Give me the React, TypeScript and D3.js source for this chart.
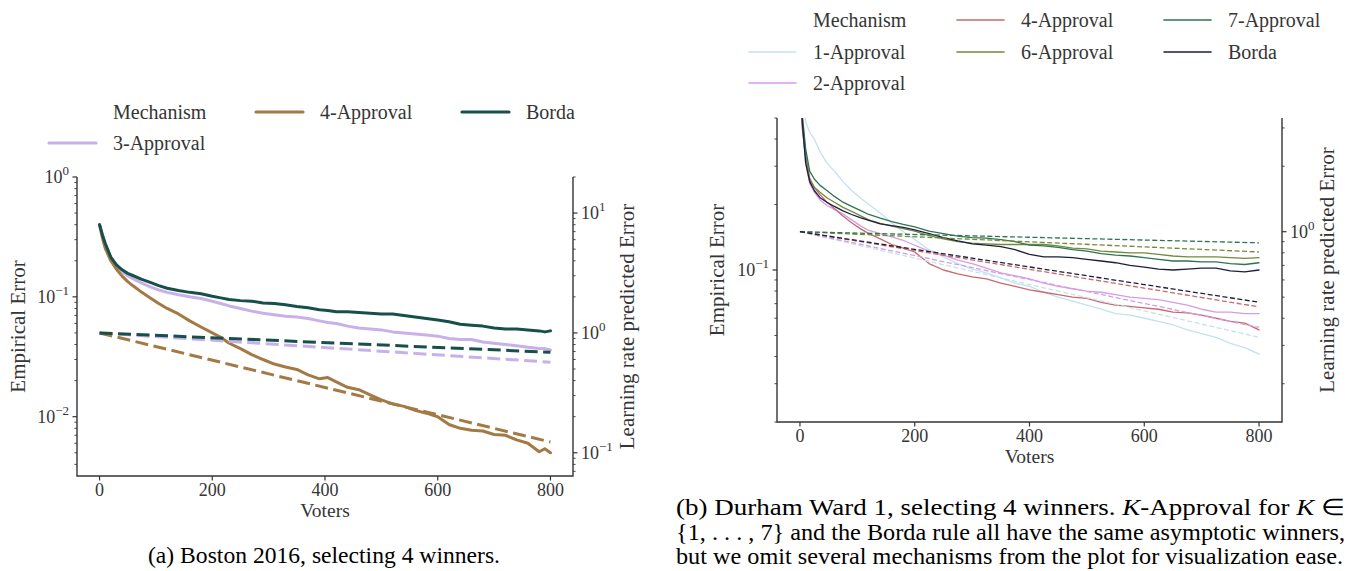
import { useEffect, useRef } from 'react'
import * as d3 from 'd3'

const WIDTH = 1348
const HEIGHT = 571
const FONT = "'Liberation Serif', 'Times New Roman', serif"
const INK = '#353535'

// (a) Boston 2016 -- empirical error per number of voters
const BOSTON_VOTERS = [0, 5, 10, 20, 30, 40, 50, 60, 75, 90, 105, 120, 140, 160, 180, 200, 215, 230, 250, 270, 290, 310, 330, 350, 370, 390, 405, 420, 440, 460, 480, 500, 520, 540, 560, 580, 600, 620, 640, 660, 680, 700, 720, 740, 760, 780, 790, 800]
const BOSTON_APPROVAL3 = [
  0.40, 0.33, 0.275, 0.21, 0.18, 0.162, 0.150, 0.141, 0.130, 0.121,
  0.114, 0.109, 0.104, 0.100, 0.097, 0.092, 0.088, 0.084, 0.080, 0.076,
  0.073, 0.071, 0.069, 0.068, 0.066, 0.063, 0.061, 0.060, 0.057, 0.055,
  0.054, 0.053, 0.051, 0.050, 0.049, 0.048, 0.047, 0.045, 0.044, 0.044,
  0.042, 0.041, 0.040, 0.039, 0.038, 0.037, 0.037, 0.036,
]
const BOSTON_APPROVAL4 = [
  0.40, 0.31, 0.255, 0.20, 0.17, 0.149, 0.134, 0.123, 0.109, 0.098,
  0.088, 0.080, 0.072, 0.063, 0.056, 0.050, 0.046, 0.041, 0.037, 0.033,
  0.030, 0.0275, 0.026, 0.0248, 0.0223, 0.0207, 0.0212, 0.0195, 0.0176, 0.0168,
  0.0152, 0.0138, 0.0128, 0.0122, 0.0113, 0.0107, 0.0100, 0.0086, 0.0080, 0.0077,
  0.0076, 0.0071, 0.0070, 0.0064, 0.0060, 0.0051, 0.0054, 0.0050,
]
const BOSTON_BORDA = [
  0.40, 0.33, 0.28, 0.215, 0.185, 0.168, 0.157, 0.150, 0.140, 0.132,
  0.124, 0.118, 0.113, 0.109, 0.106, 0.101, 0.098, 0.095, 0.093, 0.092,
  0.089, 0.088, 0.086, 0.083, 0.081, 0.078, 0.077, 0.075, 0.075, 0.074,
  0.073, 0.072, 0.072, 0.070, 0.068, 0.066, 0.064, 0.062, 0.059, 0.058,
  0.057, 0.055, 0.054, 0.054, 0.053, 0.052, 0.051, 0.052,
]

// learning-rate predicted error (right axis), straight on the log scale
const PRED_VOTERS = [0, 800]
const BOSTON_PRED_APPROVAL3 = [1, 0.57]
const BOSTON_PRED_APPROVAL4 = [1, 0.123]
const BOSTON_PRED_BORDA = [1, 0.69]

// (b) Durham Ward 1
const DURHAM_VOTERS = [0, 4, 10, 17, 25, 35, 47, 60, 75, 90, 105, 120, 140, 160, 180, 200, 225, 250, 275, 300, 325, 350, 375, 400, 425, 450, 475, 500, 525, 550, 575, 600, 625, 650, 675, 700, 725, 750, 775, 800]
const DURHAM_APPROVAL1 = [
  1.0, 0.62, 0.48, 0.43, 0.40, 0.35, 0.31, 0.285, 0.255, 0.232,
  0.215, 0.200, 0.183, 0.165, 0.150, 0.138, 0.124, 0.115, 0.107, 0.101,
  0.097, 0.092, 0.087, 0.084, 0.079, 0.075, 0.072, 0.069, 0.066, 0.063,
  0.062, 0.060, 0.058, 0.056, 0.053, 0.051, 0.049, 0.046, 0.044, 0.041,
]
const DURHAM_APPROVAL2 = [
  0.9, 0.47, 0.31, 0.25, 0.228, 0.21, 0.198, 0.19, 0.181, 0.170,
  0.160, 0.152, 0.147, 0.142, 0.137, 0.130, 0.122, 0.117, 0.111, 0.107,
  0.102, 0.097, 0.094, 0.091, 0.087, 0.084, 0.082, 0.080, 0.079, 0.077,
  0.075, 0.074, 0.073, 0.071, 0.069, 0.066, 0.064, 0.064, 0.063, 0.063,
]
const DURHAM_APPROVAL4 = [
  0.9, 0.45, 0.33, 0.265, 0.24, 0.222, 0.205, 0.192, 0.177, 0.165,
  0.155, 0.147, 0.139, 0.131, 0.126, 0.121, 0.107, 0.100, 0.096, 0.093,
  0.091, 0.087, 0.084, 0.081, 0.079, 0.077, 0.075, 0.074, 0.071, 0.069,
  0.068, 0.067, 0.066, 0.064, 0.0635, 0.062, 0.060, 0.058, 0.057, 0.053,
]
const DURHAM_APPROVAL6 = [
  0.95, 0.5, 0.34, 0.26, 0.24, 0.228, 0.215, 0.205, 0.194, 0.186,
  0.178, 0.170, 0.164, 0.159, 0.155, 0.151, 0.144, 0.139, 0.135, 0.133,
  0.132, 0.131, 0.131, 0.131, 0.131, 0.129, 0.126, 0.125, 0.122, 0.121,
  0.120, 0.120, 0.118, 0.116, 0.115, 0.115, 0.115, 0.114, 0.113, 0.114,
]
const DURHAM_APPROVAL7 = [
  0.95, 0.52, 0.36, 0.285, 0.262, 0.245, 0.232, 0.218, 0.205, 0.196,
  0.188, 0.180, 0.173, 0.167, 0.162, 0.158, 0.151, 0.147, 0.143, 0.141,
  0.140, 0.138, 0.135, 0.130, 0.129, 0.127, 0.124, 0.122, 0.119, 0.117,
  0.116, 0.114, 0.112, 0.110, 0.110, 0.109, 0.109, 0.107, 0.106, 0.108,
]
const DURHAM_BORDA = [
  0.9, 0.48, 0.31, 0.255, 0.232, 0.215, 0.205, 0.196, 0.187, 0.180,
  0.174, 0.169, 0.163, 0.160, 0.157, 0.153, 0.147, 0.141, 0.136, 0.132,
  0.130, 0.128, 0.124, 0.118, 0.115, 0.115, 0.114, 0.112, 0.110, 0.108,
  0.105, 0.103, 0.101, 0.100, 0.101, 0.102, 0.102, 0.099, 0.098, 0.100,
]
const DURHAM_PRED_APPROVAL1 = [1, 0.327]
const DURHAM_PRED_APPROVAL2 = [1, 0.363]
const DURHAM_PRED_APPROVAL4 = [1, 0.451]
const DURHAM_PRED_APPROVAL6 = [1, 0.807]
const DURHAM_PRED_APPROVAL7 = [1, 0.889]
const DURHAM_PRED_BORDA = [1, 0.474]

const X_TICKS = [0, 200, 400, 600, 800]

interface Series {
  name: string
  color: string
  values: number[]
  pred: number[]
}

const BOSTON_SERIES: Series[] = [
  { name: '3-Approval', color: '#c8b1ea', values: BOSTON_APPROVAL3, pred: BOSTON_PRED_APPROVAL3 },
  { name: '4-Approval', color: '#a37a45', values: BOSTON_APPROVAL4, pred: BOSTON_PRED_APPROVAL4 },
  { name: 'Borda', color: '#17504a', values: BOSTON_BORDA, pred: BOSTON_PRED_BORDA },
]

const DURHAM_SERIES: Series[] = [
  { name: '1-Approval', color: '#c4e1ef', values: DURHAM_APPROVAL1, pred: DURHAM_PRED_APPROVAL1 },
  { name: '2-Approval', color: '#d49de6', values: DURHAM_APPROVAL2, pred: DURHAM_PRED_APPROVAL2 },
  { name: '4-Approval', color: '#c8696a', values: DURHAM_APPROVAL4, pred: DURHAM_PRED_APPROVAL4 },
  { name: '6-Approval', color: '#74893a', values: DURHAM_APPROVAL6, pred: DURHAM_PRED_APPROVAL6 },
  { name: '7-Approval', color: '#2f7452', values: DURHAM_APPROVAL7, pred: DURHAM_PRED_APPROVAL7 },
  { name: 'Borda', color: '#1b1f42', values: DURHAM_BORDA, pred: DURHAM_PRED_BORDA },
]

interface Panel {
  id: string
  left: number
  right: number
  top: number
  bottom: number
  errDomain: [number, number]
  predDomain: [number, number]
  voters: number[]
  series: Series[]
  lineWidth: number
  dash: string
  errLabelX: number
  predLabelX: number
}

type Sel = d3.Selection<SVGGElement, unknown, null, undefined>

function isPow10(t: number) {
  return Math.abs(Math.log10(t) - Math.round(Math.log10(t))) < 1e-6
}

function logAxis(g: Sel, scale: d3.ScaleLogarithmic<number, number>, xPos: number, dir: number) {
  scale.ticks().forEach((t) => {
    const major = isPow10(t)
    const y = scale(t)
    g.append('line')
      .attr('x1', xPos).attr('x2', xPos + dir * (major ? 4.5 : 2.6))
      .attr('y1', y).attr('y2', y)
      .attr('stroke', INK).attr('stroke-width', major ? 1.2 : 0.9)
    if (!major) return
    const exp = Math.round(Math.log10(t))
    const label = g.append('text')
      .attr('x', dir < 0 ? xPos - 8 : xPos + 8)
      .attr('y', y + 6)
      .attr('text-anchor', dir < 0 ? 'end' : 'start')
      .attr('font-size', 18)
      .attr('fill', INK)
    label.append('tspan').text('10')
    label.append('tspan').attr('dy', -8).attr('font-size', 13).text(String(exp).replace('-', '\u2212'))
  })
}

function drawPanel(svg: d3.Selection<SVGSVGElement, unknown, null, undefined>, p: Panel) {
  const x = d3.scaleLinear().domain([-40, 840]).range([p.left, p.right])
  const yErr = d3.scaleLog().domain(p.errDomain).range([p.bottom, p.top])
  const yPred = d3.scaleLog().domain(p.predDomain).range([p.bottom, p.top])

  const g = svg.append('g').attr('font-family', FONT)

  svg.append('defs').append('clipPath').attr('id', `clip-${p.id}`)
    .append('rect')
    .attr('x', p.left).attr('y', p.top)
    .attr('width', p.right - p.left).attr('height', p.bottom - p.top)

  const plot = g.append('g').attr('clip-path', `url(#clip-${p.id})`)

  const errLine = d3.line<number>()
    .x((_, i) => x(p.voters[i]))
    .y((d) => yErr(d))
  const predLine = d3.line<number>()
    .x((_, i) => x(PRED_VOTERS[i]))
    .y((d) => yPred(d))

  p.series.forEach((s) => {
    plot.append('path')
      .attr('d', errLine(s.values) ?? '')
      .attr('fill', 'none')
      .attr('stroke', s.color)
      .attr('stroke-width', p.lineWidth)
      .attr('stroke-linejoin', 'round')
      .attr('stroke-linecap', 'round')
  })
  p.series.forEach((s) => {
    plot.append('path')
      .attr('d', predLine(s.pred) ?? '')
      .attr('fill', 'none')
      .attr('stroke', s.color)
      .attr('stroke-width', p.lineWidth)
      .attr('stroke-dasharray', p.dash)
  })

  // spines: left, bottom, right (no top)
  g.append('path')
    .attr('d', `M${p.left},${p.top}V${p.bottom}H${p.right}V${p.top}`)
    .attr('fill', 'none')
    .attr('stroke', INK)
    .attr('stroke-width', 1.4)

  X_TICKS.forEach((v) => {
    g.append('line')
      .attr('x1', x(v)).attr('x2', x(v))
      .attr('y1', p.bottom).attr('y2', p.bottom + 4.5)
      .attr('stroke', INK).attr('stroke-width', 1.2)
    g.append('text')
      .attr('x', x(v)).attr('y', p.bottom + 20)
      .attr('text-anchor', 'middle')
      .attr('font-size', 18).attr('fill', INK)
      .text(v)
  })

  logAxis(g, yErr, p.left, -1)
  logAxis(g, yPred, p.right, 1)

  const midY = (p.top + p.bottom) / 2
  g.append('text')
    .attr('x', (p.left + p.right) / 2).attr('y', p.bottom + 41)
    .attr('text-anchor', 'middle').attr('font-size', 19.5).attr('fill', INK)
    .text('Voters')
  g.append('text')
    .attr('transform', `translate(${p.errLabelX},${midY}) rotate(-90)`)
    .attr('text-anchor', 'middle').attr('font-size', 21).attr('fill', INK)
    .text('Empirical Error')
  g.append('text')
    .attr('transform', `translate(${p.predLabelX},${midY}) rotate(-90)`)
    .attr('text-anchor', 'middle').attr('font-size', 21).attr('fill', INK)
    .text('Learning rate predicted Error')
}

interface LegendItem {
  label: string
  color?: string
  tx: number
  ty: number
}

function drawLegend(svg: d3.Selection<SVGSVGElement, unknown, null, undefined>, items: LegendItem[], lw: number) {
  const g = svg.append('g').attr('font-family', FONT)
  items.forEach((it) => {
    if (it.color) {
      g.append('line')
        .attr('x1', it.tx - 64).attr('x2', it.tx - 17)
        .attr('y1', it.ty).attr('y2', it.ty)
        .attr('stroke', it.color).attr('stroke-width', lw)
        .attr('stroke-linecap', 'round')
    }
    g.append('text')
      .attr('x', it.tx).attr('y', it.ty + 6.5)
      .attr('font-size', 20).attr('fill', INK)
      .text(it.label)
  })
}

export default function App() {
  const svgRef = useRef<SVGSVGElement>(null)

  useEffect(() => {
    if (!svgRef.current) return
    const svg = d3.select(svgRef.current)
    svg.selectAll('*').remove()

    drawPanel(svg, {
      id: 'boston',
      left: 77, right: 573, top: 177, bottom: 476,
      errDomain: [0.0032, 1],
      predDomain: [0.064, 20],
      voters: BOSTON_VOTERS,
      series: BOSTON_SERIES,
      lineWidth: 3,
      dash: '13,5.5',
      errLabelX: 25,
      predLabelX: 634,
    })

    drawPanel(svg, {
      id: 'durham',
      left: 777, right: 1282, top: 118, bottom: 422,
      errDomain: [0.02, 0.5],
      predDomain: [0.02 / 0.15, 0.5 / 0.15],
      voters: DURHAM_VOTERS,
      series: DURHAM_SERIES,
      lineWidth: 1.3,
      dash: '5,2.5',
      errLabelX: 724,
      predLabelX: 1334,
    })

    const bColor = (name: string) => DURHAM_SERIES.find((s) => s.name === name)?.color
    const aColor = (name: string) => BOSTON_SERIES.find((s) => s.name === name)?.color

    drawLegend(svg, [
      { label: 'Mechanism', tx: 113, ty: 112 },
      { label: '4-Approval', color: aColor('4-Approval'), tx: 320, ty: 112 },
      { label: 'Borda', color: aColor('Borda'), tx: 526, ty: 112 },
      { label: '3-Approval', color: aColor('3-Approval'), tx: 113, ty: 143 },
    ], 3.2)

    drawLegend(svg, [
      { label: 'Mechanism', tx: 813, ty: 20 },
      { label: '4-Approval', color: bColor('4-Approval'), tx: 1021, ty: 20 },
      { label: '7-Approval', color: bColor('7-Approval'), tx: 1228, ty: 20 },
      { label: '1-Approval', color: bColor('1-Approval'), tx: 813, ty: 52 },
      { label: '6-Approval', color: bColor('6-Approval'), tx: 1021, ty: 52 },
      { label: 'Borda', color: bColor('Borda'), tx: 1228, ty: 52 },
      { label: '2-Approval', color: bColor('2-Approval'), tx: 813, ty: 83 },
    ], 1.6)
  }, [])

  const cap = { fontFamily: FONT, fontSize: 22.5, fill: '#000' }

  return (
    <div style={{ position: 'absolute', left: 0, top: 0 }}>
      <svg ref={svgRef} width={WIDTH} height={HEIGHT} style={{ display: 'block', background: '#fff' }} />
      <svg width={WIDTH} height={HEIGHT} style={{ position: 'absolute', left: 0, top: 0 }}>
        <text x={148} y={563} textLength={352} lengthAdjust="spacingAndGlyphs" style={cap}>
          (a) Boston 2016, selecting 4 winners.
        </text>
        <text x={676} y={515} textLength={669} lengthAdjust="spacingAndGlyphs" style={cap}>
          (b) Durham Ward 1, selecting 4 winners. <tspan fontStyle="italic">K</tspan>-Approval for{' '}
          <tspan fontStyle="italic">K</tspan> {'\u2208'}
        </text>
        <text x={676} y={539.5} textLength={669} lengthAdjust="spacingAndGlyphs" style={cap}>
          {'{1, . . . , 7} and the Borda rule all have the same asymptotic winners,'}
        </text>
        <text x={676} y={564} textLength={667} lengthAdjust="spacingAndGlyphs" style={cap}>
          but we omit several mechanisms from the plot for visualization ease.
        </text>
      </svg>
    </div>
  )
}
